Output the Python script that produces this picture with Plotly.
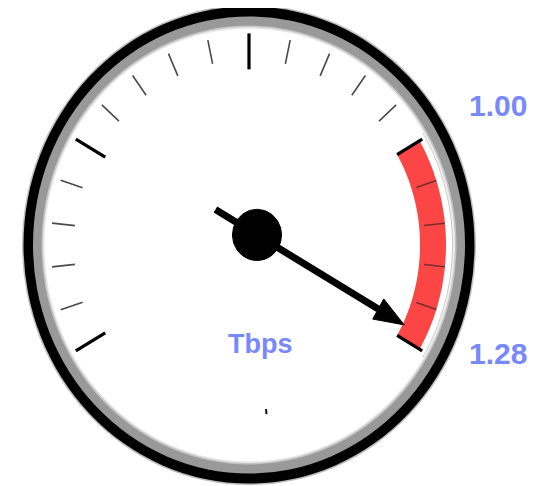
import numpy as np
import plotly.graph_objects as go

# ---- data ----
GAUGE_MIN = 0.16
GAUGE_MAX = 1.28
THRESHOLD = 1.00          # start of red zone
VALUE = 1.28              # needle value
TICK_LABELS = ["1.00", "1.28"]
UNIT = "Tbps"
N_INTERVALS = 20
MAJOR_EVERY = 5

# ---- geometry (unscaled dial units, centre at 0,0) ----
A0, A1 = -120.0, 120.0
def ang(v):
    return A0 + (A1 - A0) * (v - GAUGE_MIN) / (GAUGE_MAX - GAUGE_MIN)

def pol(r, a, cx=0.0, cy=0.0):
    t = np.radians(a)
    return cx + r * np.sin(t), cy + r * np.cos(t)

def circle(r, fill, cx=0.0, cy=0.0):
    return dict(type="circle", xref="x", yref="y", x0=cx - r, x1=cx + r,
                y0=cy - r, y1=cy + r, fillcolor=fill, line=dict(width=0), layer="below")

shapes = []
shapes.append(circle(227, "rgba(0,0,0,0.25)"))
shapes.append(circle(225.5, "#000000"))
shapes.append(circle(216, "#999999"))
shapes.append(circle(207.5, "#c4c4c4"))
shapes.append(circle(206, "#e8e8e8"))
shapes.append(circle(204.5, "#ffffff"))

# red band
a_start, a_end = ang(THRESHOLD), ang(GAUGE_MAX)
angs = np.linspace(a_start, a_end, 60)
r_in, r_out = 171, 197
pts = [pol(r_out, a) for a in angs] + [pol(r_in, a) for a in angs[::-1]]
path = "M " + " L ".join(f"{x:.2f},{y:.2f}" for x, y in pts) + " Z"
shapes.append(dict(type="path", xref="x", yref="y", path=path, fillcolor="#fc4646",
                   line=dict(width=0), layer="below"))
# thin outline arc outside the red band
angs2 = np.linspace(a_start - 1.5, a_end + 1.5, 60)
pts2 = [pol(203.5, a) for a in angs2]
path2 = "M " + " L ".join(f"{x:.2f},{y:.2f}" for x, y in pts2)
shapes.append(dict(type="path", xref="x", yref="y", path=path2,
                   line=dict(width=1, color="#c8c8c8"), layer="below"))

# ticks
for i in range(N_INTERVALS + 1):
    v = GAUGE_MIN + (GAUGE_MAX - GAUGE_MIN) * i / N_INTERVALS
    a = ang(v)
    major = i % MAJOR_EVERY == 0
    in_red = v > THRESHOLD + 1e-9 and v < GAUGE_MAX - 1e-9
    if major:
        r0, r1, w, c = (171 if v >= THRESHOLD - 1e-9 else 166), 200, 3.2, "#000000"
    elif in_red:
        r0, r1, w, c = 176, 197, 1.6, "#7a2c2c"
    else:
        r0, r1, w, c = 175, 198, 1.6, "#4a4a4a"
    x0, y0 = pol(r0, a)
    x1, y1 = pol(r1, a)
    shapes.append(dict(type="line", xref="x", yref="y", x0=x0, y0=y0, x1=x1, y1=y1,
                       line=dict(width=w, color=c), layer="below"))

# tiny mark near the bottom
shapes.append(dict(type="line", xref="x", yref="y", x0=17, y0=-155, x1=17.5, y1=-160,
                   line=dict(width=2, color="#111"), layer="below"))

fig = go.Figure()

# needle
PX, PY = 8.0, 9.5
na = ang(VALUE)
tip = pol(170, na, PX, PY)
tail = pol(-48, na, PX, PY)
base = pol(140, na, PX, PY)
fig.add_trace(go.Scatter(x=[tail[0], base[0]], y=[tail[1], base[1]], mode="lines",
                         line=dict(color="#000", width=7), hoverinfo="skip", showlegend=False))
t = np.radians(na)
nx, ny = np.cos(t), -np.sin(t)
hw = 11
hx = [tip[0], base[0] + hw * nx, base[0] - hw * nx, tip[0]]
hy = [tip[1], base[1] + hw * ny, base[1] - hw * ny, tip[1]]
fig.add_trace(go.Scatter(x=hx, y=hy, mode="lines", fill="toself", fillcolor="#000",
                         line=dict(color="#000", width=1), hoverinfo="skip", showlegend=False))
# hub
th = np.linspace(0, 2 * np.pi, 80)
fig.add_trace(go.Scatter(x=PX + 24.5 * np.cos(th), y=PY + 24.2 * np.sin(th), mode="lines",
                         fill="toself", fillcolor="#000", line=dict(color="#000", width=1),
                         hoverinfo="skip", showlegend=False))

font = dict(family="Liberation Sans, Arial, sans-serif", color="#7888ff")
annotations = [
    dict(x=249, y=131.5, text=f"<b>{TICK_LABELS[0]}</b>", showarrow=False,
         font=dict(size=30, **font), xanchor="center", yanchor="middle"),
    dict(x=249, y=-102.5, text=f"<b>{TICK_LABELS[1]}</b>", showarrow=False,
         font=dict(size=30, **font), xanchor="center", yanchor="middle"),
    dict(x=11.5, y=-94, text=f"<b>{UNIT}</b>", showarrow=False,
         font=dict(size=27, **font), xanchor="center", yanchor="middle"),
]

# page body adds an 8px offset; shift the view so the dial lands where it should
K = 1.058
OFF = 8
CX, CY = 249, 245
fig.update_layout(
    width=543, height=486, margin=dict(l=0, r=0, t=0, b=0),
    paper_bgcolor="#ffffff", plot_bgcolor="#ffffff",
    xaxis=dict(range=[OFF - CX, OFF + 543 - CX], visible=False, fixedrange=True),
    yaxis=dict(range=[(CY - OFF - 486) / K, (CY - OFF) / K], visible=False, fixedrange=True),
    shapes=shapes, annotations=annotations, showlegend=False,
)
fig.write_html("out.html")
